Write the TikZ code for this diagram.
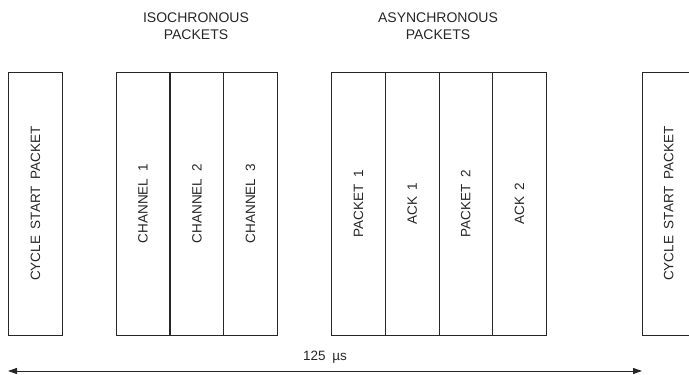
\documentclass[tikz,border=0pt]{standalone}
\usepackage{fontspec}
\setmainfont{Liberation Sans}
\usetikzlibrary{arrows.meta}
\newcommand{\gap}{\hspace{0.5em}}
\begin{document}
\begin{tikzpicture}[x=1pt,y=-1pt,
  slot/.style={draw=black!85, line width=0.9pt, rotate=90, minimum width=262.7pt, minimum height=53.7pt, inner sep=0pt, anchor=center, font=\fontsize{13.5}{16}\selectfont, text=black!85},
  title/.style={align=center, font=\fontsize{14}{17}\selectfont, text=black!85},
  span/.style={draw=black!85, line width=0.9pt, {Triangle[length=9pt,width=6pt]}-{Triangle[length=9pt,width=6pt]}}]
\clip (0,0) rectangle (689,375);
\node[slot] (cs1) at (35.5,203.7) {CYCLE\gap START\gap PACKET};
\node[slot] (ch1) at (143,203.7) {CHANNEL\gap 1};
\node[slot] (ch2) at (197,203.7) {CHANNEL\gap 2};
\node[slot] (ch3) at (250.6,203.7) {CHANNEL\gap 3};
\node[slot] (p1) at (358.4,203.7) {PACKET\gap 1};
\node[slot] (a1) at (412.1,203.7) {ACK\gap 1};
\node[slot] (p2) at (465.8,203.7) {PACKET\gap 2};
\node[slot] (a2) at (519.5,203.7) {ACK\gap 2};
\node[slot] (cs2) at (668.8,203.7) {CYCLE\gap START\gap PACKET};
\node[title] (iso) at (196,26.5) {ISOCHRONOUS\\PACKETS};
\node[title] (asy) at (438,26.5) {ASYNCHRONOUS\\PACKETS};
\coordinate (l) at (8,371);
\coordinate (r) at (642,371);
\draw[span] (l) -- node[above=4pt, font=\fontsize{13.5}{16}\selectfont, text=black!85] (lbl) {125\gap µs} (r);
\end{tikzpicture}
\end{document}
